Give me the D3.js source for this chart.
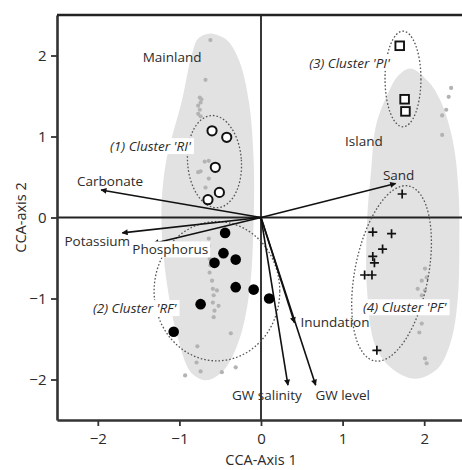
<!DOCTYPE html>
<html>
<head>
<meta charset="utf-8">
<script src="https://cdn.jsdelivr.net/npm/d3@7/dist/d3.min.js"></script>
<style>
  body { margin: 0; background: #fff; }
  text { font-family: "Open Sans", "DejaVu Sans", sans-serif; fill: #2b2b2b; }
</style>
</head>
<body>
<svg id="cca-chart" width="462" height="470"></svg>
<script>

////////////////////////////////////////////////////
// Data (CCA site scores + env vectors)

var ticks = [-2, -1, 0, 1, 2];

// cluster samples
var clusterRI = [[-0.60, 1.07], [-0.42, 0.99], [-0.56, 0.62], [-0.51, 0.31], [-0.65, 0.22]];
var clusterRF = [[-0.44, -0.19], [-0.46, -0.44], [-0.31, -0.52], [-0.57, -0.56], [-0.31, -0.86],
                 [-0.09, -0.89], [-0.74, -1.07], [0.10, -1.00], [-1.07, -1.41]];
var clusterPI = [[1.70, 2.12], [1.76, 1.46], [1.77, 1.31]];
var clusterPF = [[1.73, 0.29], [1.37, -0.18], [1.60, -0.20], [1.49, -0.39], [1.37, -0.48],
                 [1.39, -0.56], [1.27, -0.71], [1.36, -0.71], [1.42, -1.64]];

// other sites (grey)
var mainlandSites = [[-0.62, 2.19], [-0.68, 1.70], [-0.75, 1.48], [-0.73, 1.46], [-0.74, 1.42], [-0.77, 1.38],
                     [-0.75, 1.33], [-0.77, 1.28], [-0.74, 1.25], [-0.64, 0.70], [-0.69, 0.69], [-0.74, 0.57],
                     [-0.77, 0.56], [-0.64, 0.48], [-0.68, 0.37], [-0.64, -0.26], [-0.64, -0.35], [-0.65, -0.43],
                     [-0.63, -0.51], [-0.62, -0.59], [-0.63, -0.68], [-0.60, -0.78], [-0.59, -0.88], [-0.58, -0.96],
                     [-0.59, -1.05], [-0.57, -1.15], [-0.58, -1.23], [-0.54, -0.90], [-0.52, -1.09], [-0.78, -1.59],
                     [-0.79, -1.79], [-0.74, -1.90], [-0.93, -1.95], [-0.48, -1.91], [-0.31, -1.85], [-0.37, -1.43]];
var islandSites = [[2.33, 1.60], [2.30, 1.49], [2.27, 1.33], [2.22, 1.26], [2.22, 1.02], [2.01, -0.63],
                   [2.03, -0.74], [1.97, -0.78], [1.92, -0.88], [2.01, -0.90], [1.97, -0.96], [1.97, -1.31],
                   [1.94, -1.42], [2.01, -1.74], [2.03, -1.80]];

// grey hulls of the two regions
var mainlandHull = [[-0.64, 2.27], [-0.42, 2.19], [-0.27, 1.94], [-0.15, 1.44], [-0.09, 0.70], [-0.09, -0.04],
                    [-0.14, -0.90], [-0.27, -1.52], [-0.46, -1.89], [-0.67, -2.01], [-0.86, -1.91], [-1.01, -1.52],
                    [-1.14, -0.90], [-1.22, -0.04], [-1.17, 0.65], [-0.97, 1.44], [-0.85, 2.00], [-0.77, 2.21]];
var islandHull = [[1.83, 1.84], [2.04, 1.69], [2.20, 1.44], [2.35, 0.95], [2.42, 0.33], [2.43, -0.41],
                  [2.41, -1.02], [2.33, -1.52], [2.17, -1.86], [1.89, -1.99], [1.60, -1.86], [1.40, -1.58],
                  [1.30, -0.90], [1.30, -0.04], [1.35, 0.58], [1.41, 1.14], [1.56, 1.54], [1.68, 1.75]];

// cluster ellipses: centre x, centre y, radius x, radius y, rotation (deg)
var ellipseNames = ["RI", "RF", "PI", "PF"];
var ellipseCx = [-0.57, -0.54, 1.74, 1.60];
var ellipseCy = [0.69, -0.91, 1.71, -0.69];
var ellipseRx = [0.33, 0.77, 0.22, 0.45];
var ellipseRy = [0.57, 0.86, 0.59, 1.10];
var ellipseRot = [-4, 0, 0, 11];

// environmental vectors
var envNames = ["Carbonate", "Potassium", "Phosphorus", "Sand", "Inundation", "GW salinity", "GW level"];
var envX = [-1.96, -1.70, -1.32, 1.65, 0.41, 0.33, 0.67];
var envY = [0.34, -0.19, -0.32, 0.42, -1.30, -2.07, -2.07];

// text labels
var regionLabels = ["Mainland", "Island"];
var clusterLabels = ["(1) Cluster 'RI'", "(2) Cluster 'RF'", "(3) Cluster 'PI'", "(4) Cluster 'PF'"];


///////////////////////
// Chart Size Setup
var svg = d3.select("#cca-chart");
var plotLeft = 57, plotRight = 465, plotTop = 15, plotBottom = 420;

var x = d3.scaleLinear().domain([-2.5, 2.5]).range([plotLeft, plotRight]);
var y = d3.scaleLinear().domain([-2.5, 2.5]).range([plotBottom, plotTop]);

var chart = svg.append("g");

///////////////////////
// Grey region hulls
var hullLine = d3.line()
    .x(function(d) { return x(d[0]); })
    .y(function(d) { return y(d[1]); })
    .curve(d3.curveCatmullRomClosed.alpha(0.5));

[mainlandHull, islandHull].forEach(function(h) {
  chart.append("path")
      .attr("d", hullLine(h))
      .attr("fill", "#e2e2e2")
      .attr("stroke", "none");
});

// grey site points
chart.append("g")
  .selectAll("circle")
  .data(mainlandSites.concat(islandSites))
  .enter().append("circle")
    .attr("cx", function(d) { return x(d[0]); })
    .attr("cy", function(d) { return y(d[1]); })
    .attr("r", 2.1)
    .attr("fill", "#b3b3b3");

///////////////////////
// Zero lines
chart.append("line")
    .attr("x1", x(0)).attr("x2", x(0))
    .attr("y1", plotTop).attr("y2", plotBottom)
    .attr("stroke", "#222").attr("stroke-width", 1.8);
chart.append("line")
    .attr("x1", plotLeft).attr("x2", plotRight)
    .attr("y1", y(0)).attr("y2", y(0))
    .attr("stroke", "#222").attr("stroke-width", 1.8);

///////////////////////
// Dotted cluster ellipses
var pxPerUnitX = x(1) - x(0);
var pxPerUnitY = y(0) - y(1);
ellipseNames.forEach(function(n, i) {
  chart.append("ellipse")
      .attr("cx", 0).attr("cy", 0)
      .attr("rx", ellipseRx[i] * pxPerUnitX)
      .attr("ry", ellipseRy[i] * pxPerUnitY)
      .attr("transform", "translate(" + x(ellipseCx[i]) + "," + y(ellipseCy[i]) + ") rotate(" + ellipseRot[i] + ")")
      .attr("fill", "none")
      .attr("stroke", "#555")
      .attr("stroke-width", 1.3)
      .attr("stroke-dasharray", "1.6,2");
});

///////////////////////
// Env arrows
var defs = svg.append("defs");
defs.append("marker")
    .attr("id", "arrow")
    .attr("viewBox", "0 0 10 10")
    .attr("refX", 9).attr("refY", 5)
    .attr("markerWidth", 7).attr("markerHeight", 6)
    .attr("markerUnits", "userSpaceOnUse")
    .attr("orient", "auto")
  .append("path")
    .attr("d", "M0,0 L10,5 L0,10 Z")
    .attr("fill", "#111");

envNames.forEach(function(n, i) {
  chart.append("line")
      .attr("x1", x(0)).attr("y1", y(0))
      .attr("x2", x(envX[i])).attr("y2", y(envY[i]))
      .attr("stroke", "#111")
      .attr("stroke-width", 1.6)
      .attr("marker-end", "url(#arrow)");
});

// label offsets from arrow tip (px)
var envLabelPos = {
  "Carbonate":   { dx: 9,   dy: -4, anchor: "middle", bg: false },
  "Potassium":   { dx: -25, dy: 13, anchor: "middle", bg: false },
  "Phosphorus":  { dx: 17,  dy: 11, anchor: "middle", bg: true },
  "Sand":        { dx: 3,   dy: -3, anchor: "middle", bg: false },
  "Inundation":  { dx: 6,   dy: 4,  anchor: "start",  bg: false },
  "GW salinity": { dx: -21, dy: 15, anchor: "middle", bg: false },
  "GW level":    { dx: 27,  dy: 15, anchor: "middle", bg: false }
};

function addLabel(g, txt, px, py, anchor, italic, bg) {
  var t = g.append("text")
      .text(txt)
      .attr("x", px).attr("y", py)
      .attr("text-anchor", anchor)
      .style("font-size", "13.5px")
      .style("font-style", italic ? "italic" : "normal");
  if (bg) {
    var b = t.node().getBBox();
    g.insert("rect", "text")
        .attr("x", b.x - 2).attr("y", b.y + 1)
        .attr("width", b.width + 4).attr("height", b.height - 2)
        .attr("fill", "#fff");
  }
  return t;
}

var labels = chart.append("g");
envNames.forEach(function(n, i) {
  var p = envLabelPos[n];
  var lg = labels.append("g");
  addLabel(lg, n, x(envX[i]) + p.dx, y(envY[i]) + p.dy, p.anchor, false, p.bg);
});

///////////////////////
// Cluster samples
var marks = chart.append("g");

marks.selectAll(".ri").data(clusterRI).enter().append("circle")
    .attr("cx", function(d) { return x(d[0]); })
    .attr("cy", function(d) { return y(d[1]); })
    .attr("r", 4.6)
    .attr("fill", "#fff").attr("stroke", "#111").attr("stroke-width", 2);

marks.selectAll(".rf").data(clusterRF).enter().append("circle")
    .attr("cx", function(d) { return x(d[0]); })
    .attr("cy", function(d) { return y(d[1]); })
    .attr("r", 5.3)
    .attr("fill", "#000");

marks.selectAll(".pi").data(clusterPI).enter().append("rect")
    .attr("x", function(d) { return x(d[0]) - 4.3; })
    .attr("y", function(d) { return y(d[1]) - 4.3; })
    .attr("width", 8.6).attr("height", 8.6)
    .attr("fill", "#fff").attr("stroke", "#111").attr("stroke-width", 1.9);

marks.selectAll(".pf").data(clusterPF).enter().append("path")
    .attr("d", function(d) {
      var cx = x(d[0]), cy = y(d[1]);
      return "M" + (cx - 4.5) + "," + cy + "H" + (cx + 4.5) + "M" + cx + "," + (cy - 4.5) + "V" + (cy + 4.5);
    })
    .attr("stroke", "#111").attr("stroke-width", 1.7);

///////////////////////
// Region + cluster labels
var regionPos = [[-1.45, 1.92], [1.03, 0.88]];
regionLabels.forEach(function(n, i) {
  addLabel(labels.append("g"), n, x(regionPos[i][0]), y(regionPos[i][1]), "start", false, false);
});

var clusterPos = [[-1.85, 0.82], [-2.06, -1.18], [0.59, 1.85], [1.25, -1.17]];
clusterLabels.forEach(function(n, i) {
  addLabel(labels.append("g"), n, x(clusterPos[i][0]), y(clusterPos[i][1]), "start", true, true);
});

///////////////////////
// Axes
var xAxis = d3.axisBottom(x).tickValues(ticks).tickSize(6).tickSizeOuter(0)
    .tickFormat(d3.format("d"));
var yAxis = d3.axisLeft(y).tickValues(ticks).tickSize(6).tickSizeOuter(0)
    .tickFormat(d3.format("d"));

var gx = svg.append("g")
    .attr("transform", "translate(0," + plotBottom + ")")
    .call(xAxis);
var gy = svg.append("g")
    .attr("transform", "translate(" + plotLeft + ",0)")
    .call(yAxis);

[gx, gy].forEach(function(g) {
  g.select(".domain").attr("stroke", "#333").attr("stroke-width", 2.6);
  g.selectAll(".tick line").attr("stroke", "#333").attr("stroke-width", 1.8);
  g.selectAll(".tick text")
      .style("font-family", "'Open Sans', sans-serif")
      .style("font-size", "15px")
      .attr("fill", "#2b2b2b");
});
gx.selectAll(".tick text").attr("dy", "1.0em");
gy.selectAll(".tick text").attr("dx", "-0.1em");

// top border
svg.append("line")
    .attr("x1", plotLeft).attr("x2", plotRight)
    .attr("y1", plotTop).attr("y2", plotTop)
    .attr("stroke", "#222").attr("stroke-width", 2.4);

// axis titles
svg.append("text")
    .text("CCA-Axis 1")
    .attr("text-anchor", "middle")
    .attr("x", x(0))
    .attr("y", 465)
    .style("font-size", "14.5px");

svg.append("text")
    .text("CCA-axis 2")
    .attr("text-anchor", "middle")
    .attr("transform", "translate(26," + y(0) + ") rotate(-90)")
    .style("font-size", "14.5px");

</script>
</body>
</html>
